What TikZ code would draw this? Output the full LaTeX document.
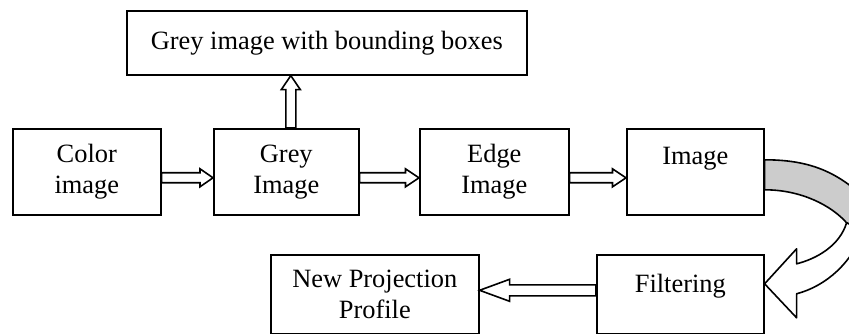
\documentclass[tikz,border=0pt]{standalone}
\usepackage{fontspec}
\setmainfont{Liberation Serif}
\usetikzlibrary{calc}
\newcommand\hollowarrow[5]{%
  \coordinate (hb) at ($(#2)!#5!(#1)$);
  \draw[arrline] ($(#1)!#3!90:(#2)$) -- ($(hb)!#3!90:(#2)$) -- ($(hb)!#4!90:(#2)$) -- (#2)
    -- ($(hb)!#4!-90:(#2)$) -- ($(hb)!#3!-90:(#2)$) -- ($(#1)!#3!-90:(#2)$) -- cycle;}
\begin{document}
\begin{tikzpicture}[x=1pt,y=-1pt,
  box/.style={draw, line width=1.6pt, inner sep=0pt, anchor=north west, align=center,
    font=\fontsize{26.4}{31}\selectfont},
  arrline/.style={draw, fill=white, line width=1.6pt, line join=miter},
  band/.style={draw, line width=1.6pt, line join=round}]
\useasboundingbox (0,0) rectangle (849,334);
\clip (0,0) rectangle (849,334);
\node[box, minimum width=400pt, minimum height=64pt] (top) at (126,10) {Grey image with bounding boxes};
\node[box, minimum width=148pt, minimum height=86pt] (color) at (12,128) {Color\\image};
\node[box, minimum width=145pt, minimum height=86pt] (grey) at (213,128) {Grey\\Image};
\node[box, minimum width=149pt, minimum height=86pt] (edge) at (419,128) {Edge\\Image};
\node[box, minimum width=137pt, minimum height=86pt] (image) at (626,128) {Image\\\mbox{}};
\node[box, minimum width=167pt, minimum height=79pt] (filt) at (596,254) {Filtering\\[-10pt]\mbox{}};
\node[box, minimum width=208pt, minimum height=79pt] (npp) at (270,254) {New Projection\\Profile};
% straight hollow arrows
\coordinate (a1s) at ($(color.east)+(0,6)$);
\coordinate (a1e) at (a1s -| grey.west);
\hollowarrow{a1s}{a1e}{5pt}{9pt}{13pt}
\coordinate (a2s) at ($(grey.east)+(0,6)$);
\coordinate (a2e) at (a2s -| edge.west);
\hollowarrow{a2s}{a2e}{5pt}{9pt}{13.5pt}
\coordinate (a3s) at ($(edge.east)+(0,6)$);
\coordinate (a3e) at (a3s -| image.west);
\hollowarrow{a3s}{a3e}{5pt}{9pt}{13.5pt}
\coordinate (a4s) at ($(grey.north)+(4.5,0)$);
\coordinate (a4e) at (a4s |- top.south);
\hollowarrow{a4s}{a4e}{5pt}{9.5pt}{14pt}
\coordinate (a5s) at ($(filt.west)+(0,-4)$);
\coordinate (a5e) at (a5s -| npp.east);
\hollowarrow{a5s}{a5e}{5.5pt}{11pt}{30pt}
% curved arrow from image to filtering
\begin{scope}[shift={(image.east)}]
\draw[band, fill=black!20] (0,-12) .. controls (52,-12) and (82,4) .. (117,44) -- (117,69) -- (82,51)
  .. controls (67,34) and (37,18) .. (0,18) -- cycle;
\draw[band, fill=white] (32,92) -- (32,77) -- (0,112) -- (32,146) -- (32,122)
  .. controls (62,114) and (87,91) .. (99,59) -- (82,51)
  .. controls (75,74) and (52,87) .. (32,92) -- cycle;
\end{scope}
\end{tikzpicture}
\end{document}
